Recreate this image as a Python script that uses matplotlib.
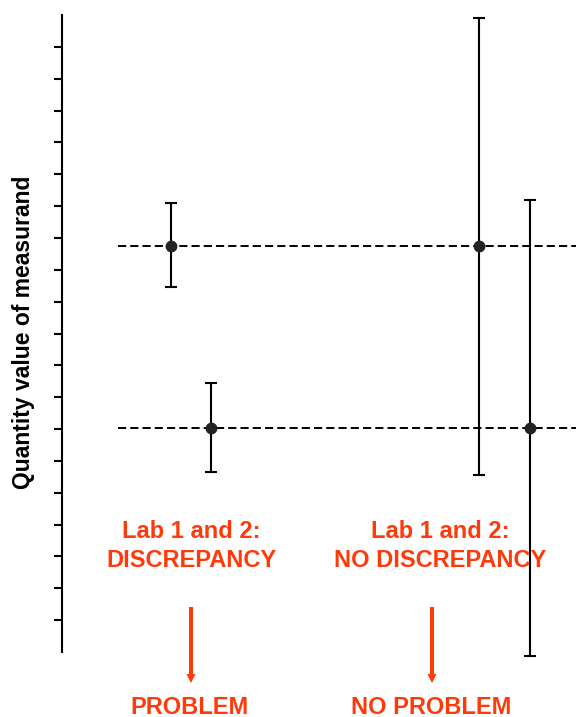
import matplotlib
matplotlib.use("Agg")
import matplotlib.pyplot as plt
from matplotlib.patches import FancyArrow
from matplotlib.transforms import IdentityTransform

# Data
lab_x = [2.12, 2.9, 8.11, 9.1]
lab_y = [12.75, 7.03, 12.75, 7.03]
err_low = [1.30, 1.37, 7.2, 7.15]
err_high = [1.35, 1.42, 7.15, 7.16]
ref_levels = [12.75, 7.03]
ref_xstart = 1.09
yticks = list(range(1, 20))
ylabel = "Quantity value of measurand"
top_labels = ["Lab 1 and 2:\nDISCREPANCY", "Lab 1 and 2:\nNO DISCREPANCY"]
bottom_labels = ["PROBLEM", "NO PROBLEM"]

W, H = 576, 717
fig = plt.figure(figsize=(W / 100, H / 100), dpi=100)
ax = fig.add_axes([62 / W, (H - 652) / H, (W - 62) / W, (652 - 15) / H])
ax.set_xlim(0, 10)
ax.set_ylim(0, 20)

for lv in ref_levels:
    ax.plot([ref_xstart, 10], [lv, lv], color="black", lw=1.4,
            linestyle=(0, (4.2, 2.1)), clip_on=False, zorder=1)

ax.errorbar(lab_x, lab_y, yerr=[err_low, err_high], fmt="o", color="#222222",
            ms=7.5, ecolor="black", elinewidth=1.5, capsize=4.5, capthick=1.5,
            clip_on=False, zorder=3)

for s in ["top", "right", "bottom"]:
    ax.spines[s].set_visible(False)
ax.spines["left"].set_linewidth(1.5)
ax.set_xticks([])
ax.set_yticks(yticks)
ax.set_yticklabels([])
ax.tick_params(axis="y", direction="out", length=5.5, width=1.5)

fig.text(24 / W, 1 - 332 / H, ylabel, rotation=90, ha="center", va="center",
         fontsize=16.5, fontweight="bold", family="Liberation Sans", color="black")

red = "#FF3A0A"
tx = [191, 440]
for x, t in zip(tx, top_labels):
    fig.text(x / W, 1 - 546 / H, t, ha="center", va="center", fontsize=17,
             fontweight="bold", family="Liberation Sans", color=red,
             linespacing=1.3)

ax_x = [191, 432]
for x in ax_x:
    fig.patches.append(FancyArrow(
        x, H - 607, 0, -76, width=4, head_width=9, head_length=9,
        length_includes_head=True, transform=IdentityTransform(),
        color=red, lw=0))

bx = [190, 431]
for x, t in zip(bx, bottom_labels):
    fig.text(x / W, 1 - 707 / H, t, ha="center", va="center", fontsize=17,
             fontweight="bold", family="Liberation Sans", color=red)

fig.savefig("out.png", dpi=100)
